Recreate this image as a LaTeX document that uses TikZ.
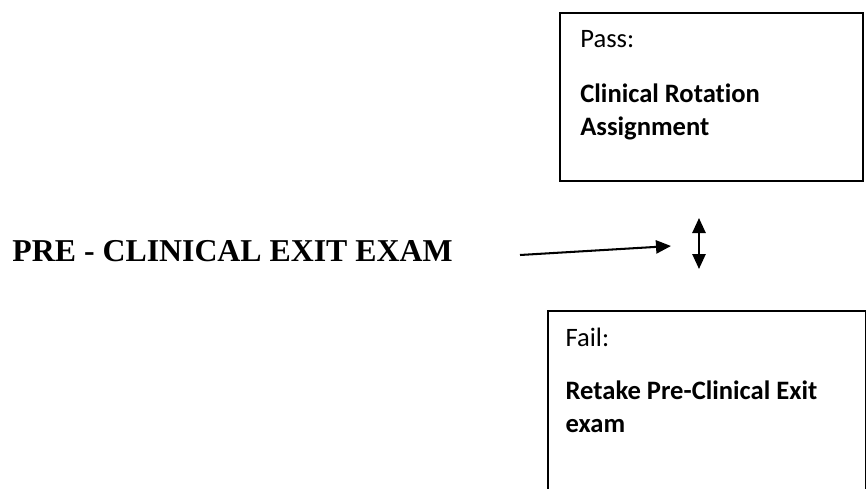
\documentclass[tikz,border=0pt]{standalone}
\usepackage{fontspec}
\setmainfont{Carlito}[Ligatures=NoCommon]
\newfontfamily\titlefont{Liberation Serif}
\usepackage{tikz}
\usetikzlibrary{arrows.meta}
\usetikzlibrary{positioning}
\tikzset{exam-line/.style={line width=0.9pt}}
\tikzset{>={Triangle[length=6.6pt, width=5.8pt]}}
\tikzset{exam-box/.style={draw, line width=0.75pt, inner sep=0, anchor=north west}}
\tikzset{box-text/.style={inner sep=0, align=left, font=\fontsize{11.7pt}{14.5pt}\selectfont}}
\tikzset{exam-title/.style={inner sep=0, font=\titlefont\bfseries\fontsize{14pt}{17pt}\selectfont}}

\begin{document}
\begin{tikzpicture}[x=0.44pt, y=-0.44pt]
            \clip (0,0) rectangle (866,488);

            \node[exam-title, anchor=base west] (examtitle) at (12,261) {PRE - CLINICAL EXIT EXAM};

            \node[exam-box, minimum width=133.3pt, minimum height=73.9pt] (passbox) at (559,12) {};
            \node[exam-box, minimum width=139.9pt, minimum height=84pt] (failbox) at (547,310) {};

            \node[box-text, anchor=north west, below right=7.9pt and 9.2pt of passbox.north west] (passtext)
                {Pass:\\[9.7pt]\textbf{Clinical Rotation}\\\textbf{Assignment}};
            \node[box-text, anchor=north west, below right=7.9pt and 8pt of failbox.north west] (failtext)
                {Fail:\\[8.5pt]\textbf{Retake Pre-Clinical Exit}\\\textbf{exam}};

            \coordinate (arrowtail) at (520,255);
            \coordinate (arrowhead) at (671,246);
            \coordinate (splittop) at (699,218);
            \coordinate (splitbottom) at (699,269);

            \draw[->, exam-line] (arrowtail) -- (arrowhead);
            \draw[<->, exam-line] (splittop) -- (splitbottom);
        \end{tikzpicture}
\end{document}
